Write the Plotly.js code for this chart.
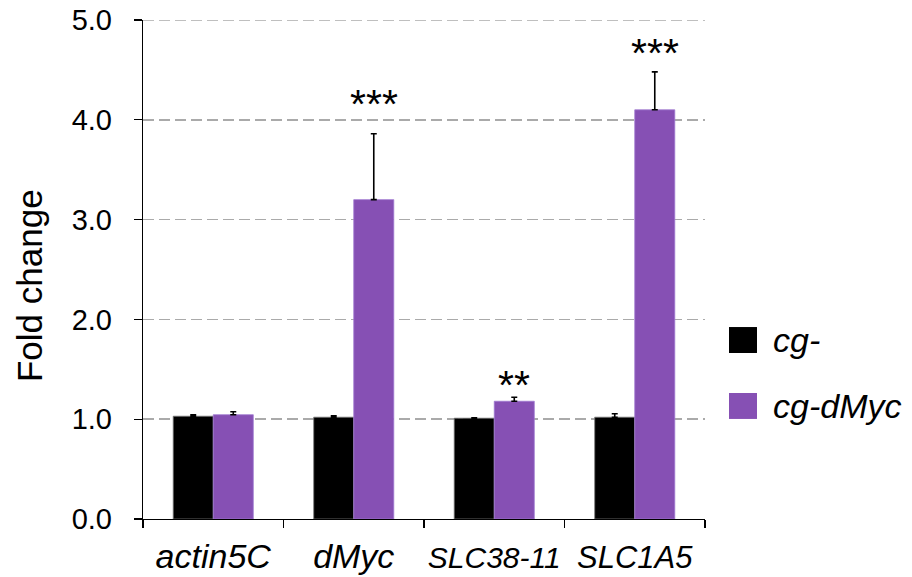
<!DOCTYPE html>
<html>
<head>
<meta charset="utf-8">
<script src="https://cdn.plot.ly/plotly-3.0.1.min.js"></script>
<style>
  html, body { margin: 0; padding: 0; background: #fff; }
  #chart { width: 912px; height: 577px; }
</style>
</head>
<body>
<div id="chart"></div>
<script>
// ---- data ----
const categories = ["actin5C", "dMyc", "SLC38-11", "SLC1A5"];
const seriesNames = ["cg-", "cg-dMyc"];
const cgValues = [1.03, 1.02, 1.01, 1.02];
const cgErrors = [0.015, 0.015, 0.005, 0.035];
const cgMycValues = [1.045, 3.20, 1.18, 4.10];
const cgMycErrors = [0.03, 0.66, 0.04, 0.38];
const sigLabels = ["", "***", "**", "***"];
const sigY = [null, 4.16, 1.34, 4.67];
const yTickVals = [0, 1, 2, 3, 4, 5];
const yTickText = ["0.0", "1.0", "2.0", "3.0", "4.0", "5.0"];
const yTitle = "Fold change";

const colors = ["#000000", "#8650b4"];
const FONT = "Liberation Sans, Arial, Helvetica, sans-serif";
const xLabelSizes = [34, 34, 30, 31];

const traces = [
  {
    type: "bar", name: seriesNames[0], x: categories, y: cgValues,
    marker: { color: colors[0], line: { color: "#777777", width: 0.8 } },
    error_y: { type: "data", symmetric: false, array: cgErrors, arrayminus: cgErrors.map(() => 0),
               color: "#000", thickness: 1.6, width: 3 },
    showlegend: false, hoverinfo: "skip"
  },
  {
    type: "bar", name: seriesNames[1], x: categories, y: cgMycValues,
    marker: { color: colors[1], line: { color: "#a07ad0", width: 0.8 } },
    error_y: { type: "data", symmetric: false, array: cgMycErrors, arrayminus: cgMycErrors.map(() => 0),
               color: "#000", thickness: 1.6, width: 3 },
    showlegend: false, hoverinfo: "skip"
  }
];

const annotations = [];
categories.forEach((c, i) => {
  if (sigLabels[i]) {
    annotations.push({
      x: c, y: sigY[i], xref: "x", yref: "y", xshift: 20,
      text: sigLabels[i], showarrow: false, yanchor: "middle",
      font: { family: FONT, size: 41, color: "#000" }
    });
  }
});

// y-axis title (placed as annotation to match reference position)
annotations.push({
  x: -0.201, y: 0.467, xref: "paper", yref: "paper", textangle: -90,
  xanchor: "center", yanchor: "middle", showarrow: false,
  text: yTitle, font: { family: FONT, size: 35, color: "#000" }
});

// custom legend (larger squares as in reference)
const legendY = [0.3587, 0.2265];
const shapes = [];
seriesNames.forEach((n, i) => {
  shapes.push({
    type: "rect", xref: "paper", yref: "paper",
    x0: 1.0427, x1: 1.0925, y0: legendY[i] - 0.026, y1: legendY[i] + 0.026,
    fillcolor: colors[i], line: { width: 0 }
  });
  annotations.push({
    x: 1.117, y: legendY[i], xref: "paper", yref: "paper",
    xanchor: "left", yanchor: "middle", showarrow: false,
    text: n, font: { family: FONT, size: 34, color: "#000", style: "italic" }
  });
});

// top dashed gridline (Plotly omits the grid line at the range edge)
shapes.push({
  type: "line", xref: "paper", yref: "y", x0: 0, x1: 1, y0: yTickVals[yTickVals.length - 1], y1: yTickVals[yTickVals.length - 1],
  line: { color: "#aaaaaa", width: 1.5, dash: "11px,5px" }, layer: "below"
});

const layout = {
  width: 912, height: 577,
  margin: { l: 143, r: 207, t: 20, b: 58 },
  paper_bgcolor: "#fff", plot_bgcolor: "#fff",
  barmode: "group", bargap: 0.43, bargroupgap: 0,
  showlegend: false,
  font: { family: FONT, color: "#000" },
  xaxis: {
    type: "category", tickson: "boundaries", ticks: "outside", ticklen: 8, tickwidth: 1.2,
    tickcolor: "#000", showline: true, linecolor: "#000", linewidth: 1.2,
    showgrid: false, zeroline: false, tickangle: 0,
    tickvals: categories,
    ticktext: categories.map((c, i) => `<span style="font-size:${xLabelSizes[i]}px">${c}</span>`),
    tickfont: { family: FONT, size: 32, style: "italic", color: "#000" },
    ticklabelstandoff: 9
  },
  yaxis: {
    range: [0, 5], tickvals: yTickVals, ticktext: yTickText,
    ticks: "outside", ticklen: 8, tickwidth: 1.2, tickcolor: "#000",
    showline: true, linecolor: "#000", linewidth: 1.2,
    showgrid: true, gridcolor: "#aaaaaa", gridwidth: 1.5, griddash: "11px,5px",
    zeroline: false,
    tickfont: { family: FONT, size: 29, color: "#000" },
    ticklabelstandoff: 16
  },
  annotations: annotations,
  shapes: shapes
};

Plotly.newPlot("chart", traces, layout, { staticPlot: true, displayModeBar: false });
</script>
</body>
</html>
